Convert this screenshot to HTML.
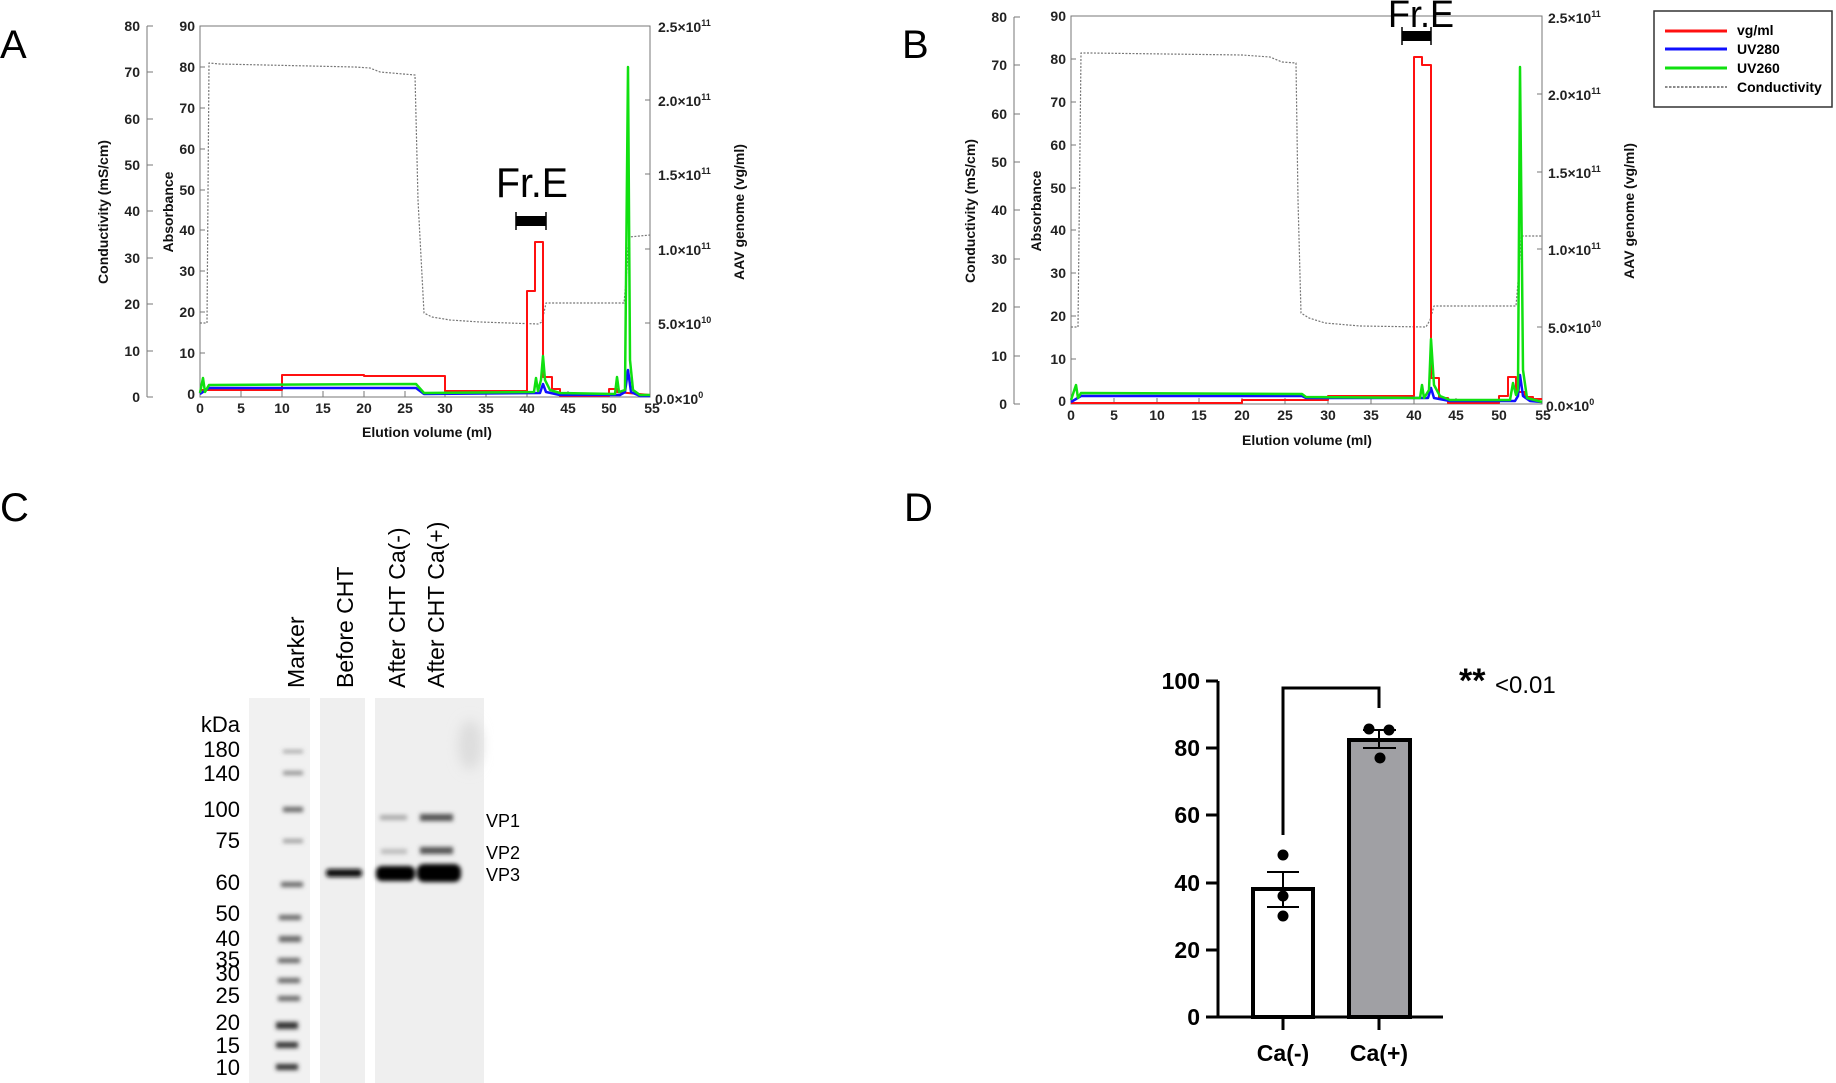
<!DOCTYPE html>
<html><head><meta charset="utf-8"><style>
html,body{margin:0;padding:0;background:#fff;}
svg{display:block;}
text{font-family:"Liberation Sans",sans-serif;}
.t{font-size:14px;font-weight:bold;fill:#222;}
.at{font-size:14px;font-weight:bold;fill:#111;}
.lg{font-family:"Liberation Serif",serif;font-size:14px;font-weight:bold;}
</style></head><body>
<svg width="1836" height="1083" viewBox="0 0 1836 1083" xmlns="http://www.w3.org/2000/svg">
<defs>
<filter id="bl" x="-20%" y="-80%" width="140%" height="260%"><feGaussianBlur stdDeviation="2"/></filter>
<filter id="bl2" x="-50%" y="-50%" width="200%" height="200%"><feGaussianBlur stdDeviation="6"/></filter>
</defs>

<!-- ================= Panel A ================= -->
<text x="0" y="58" font-size="40">A</text>
<g stroke="#777" stroke-width="1" fill="none">
<rect x="200" y="26" width="450" height="371"/>
<line x1="147" y1="26" x2="147" y2="397"/>
</g>
<g stroke="#777" stroke-width="1">
<line x1="147" y1="397" x2="153" y2="397"/><line x1="147" y1="351" x2="153" y2="351"/><line x1="147" y1="304" x2="153" y2="304"/><line x1="147" y1="258" x2="153" y2="258"/><line x1="147" y1="211" x2="153" y2="211"/><line x1="147" y1="165" x2="153" y2="165"/><line x1="147" y1="119" x2="153" y2="119"/><line x1="147" y1="72" x2="153" y2="72"/><line x1="147" y1="26" x2="153" y2="26"/>
<line x1="200" y1="353" x2="205" y2="353"/><line x1="200" y1="312" x2="205" y2="312"/><line x1="200" y1="271" x2="205" y2="271"/><line x1="200" y1="230" x2="205" y2="230"/><line x1="200" y1="190" x2="205" y2="190"/><line x1="200" y1="149" x2="205" y2="149"/><line x1="200" y1="108" x2="205" y2="108"/><line x1="200" y1="67" x2="205" y2="67"/>
<line x1="650" y1="323" x2="645" y2="323"/><line x1="650" y1="249" x2="645" y2="249"/><line x1="650" y1="174" x2="645" y2="174"/><line x1="650" y1="100" x2="645" y2="100"/>
<line x1="241" y1="397" x2="241" y2="391"/><line x1="282" y1="397" x2="282" y2="391"/><line x1="323" y1="397" x2="323" y2="391"/><line x1="364" y1="397" x2="364" y2="391"/><line x1="405" y1="397" x2="405" y2="391"/><line x1="445" y1="397" x2="445" y2="391"/><line x1="486" y1="397" x2="486" y2="391"/><line x1="527" y1="397" x2="527" y2="391"/><line x1="568" y1="397" x2="568" y2="391"/><line x1="609" y1="397" x2="609" y2="391"/>
</g>
<g class="t" text-anchor="end">
<text x="140" y="402">0</text><text x="140" y="356">10</text><text x="140" y="309">20</text><text x="140" y="263">30</text><text x="140" y="216">40</text><text x="140" y="170">50</text><text x="140" y="124">60</text><text x="140" y="77">70</text><text x="140" y="31">80</text>
<text x="195" y="399">0</text><text x="195" y="358">10</text><text x="195" y="317">20</text><text x="195" y="276">30</text><text x="195" y="235">40</text><text x="195" y="195">50</text><text x="195" y="154">60</text><text x="195" y="113">70</text><text x="195" y="72">80</text><text x="195" y="31">90</text>
</g>
<g class="t" text-anchor="middle">
<text x="200" y="413">0</text><text x="241" y="413">5</text><text x="282" y="413">10</text><text x="323" y="413">15</text><text x="364" y="413">20</text><text x="405" y="413">25</text><text x="445" y="413">30</text><text x="486" y="413">35</text><text x="527" y="413">40</text><text x="568" y="413">45</text><text x="609" y="413">50</text><text x="652" y="413">55</text>
</g>
<g class="t">
<text x="655" y="404">0.0×10<tspan dy="-6" font-size="9">0</tspan></text>
<text x="658" y="329">5.0×10<tspan dy="-6" font-size="9">10</tspan></text>
<text x="658" y="255">1.0×10<tspan dy="-6" font-size="9">11</tspan></text>
<text x="658" y="180">1.5×10<tspan dy="-6" font-size="9">11</tspan></text>
<text x="658" y="106">2.0×10<tspan dy="-6" font-size="9">11</tspan></text>
<text x="658" y="32">2.5×10<tspan dy="-6" font-size="9">11</tspan></text>
</g>
<text class="at" x="427" y="437" text-anchor="middle" font-size="16">Elution volume (ml)</text>
<text class="at" transform="translate(108,212) rotate(-90)" text-anchor="middle" font-size="15">Conductivity (mS/cm)</text>
<text class="at" transform="translate(173,212) rotate(-90)" text-anchor="middle" font-size="15">Absorbance</text>
<text class="at" transform="translate(744,212) rotate(-90)" text-anchor="middle" font-size="15">AAV genome (vg/ml)</text>
<g fill="none" stroke-linejoin="round">
<path d="M200,323 L207,323 L209,63 L220,64 L355,67 L370,68 L380,72 L415,75 L418,200 L424,313 L432,317 L450,320 L480,322 L538,324 L542,322 L546,303 L624,303 L627,270 L629,237 L650,235" stroke="#777" stroke-width="1.2" stroke-dasharray="2,1.5"/>
<path d="M200,390 L282,390 L282,375 L364,375 L364,376 L445,376 L445,391 L527,391 L527,291 L535,291 L535,242 L543,242 L543,377 L552,377 L552,389 L560,389 L560,396 L609,396 L609,389 L617,389 L617,392 L650,395" stroke="#ff1010" stroke-width="2"/>
<path d="M200,394 L209,388 L416,388 L424,394 L540,393 L543,384 L546,392 L560,395 L620,395 L625,392 L628,370 L631,392 L640,396 L650,396" stroke="#1010ff" stroke-width="2.5"/>
<path d="M200,393 L203,378 L205,392 L209,385 L416,384 L424,393 L534,392 L536,378 L538,391 L541,380 L543,356 L545,380 L550,390 L560,393 L615,394 L617,377 L619,392 L625,390 L628,67 L630,360 L633,390 L640,395 L650,395" stroke="#10e010" stroke-width="2.5"/>
</g>
<text x="532" y="197" font-size="42" text-anchor="middle" textLength="72" lengthAdjust="spacingAndGlyphs">Fr.E</text>
<rect x="516" y="216" width="30" height="10" fill="#000"/>
<line x1="516" y1="212" x2="516" y2="230" stroke="#000" stroke-width="1.5"/>
<line x1="546" y1="212" x2="546" y2="230" stroke="#000" stroke-width="1.5"/>

<!-- ================= Panel B ================= -->
<text x="902" y="58" font-size="40">B</text>
<g stroke="#777" stroke-width="1" fill="none">
<rect x="1071" y="16" width="471" height="388"/>
<line x1="1014" y1="17" x2="1014" y2="404"/>
</g>
<g stroke="#777" stroke-width="1">
<line x1="1014" y1="404" x2="1020" y2="404"/><line x1="1014" y1="356" x2="1020" y2="356"/><line x1="1014" y1="307" x2="1020" y2="307"/><line x1="1014" y1="259" x2="1020" y2="259"/><line x1="1014" y1="210" x2="1020" y2="210"/><line x1="1014" y1="162" x2="1020" y2="162"/><line x1="1014" y1="114" x2="1020" y2="114"/><line x1="1014" y1="65" x2="1020" y2="65"/><line x1="1014" y1="17" x2="1020" y2="17"/>
<line x1="1071" y1="359" x2="1076" y2="359"/><line x1="1071" y1="316" x2="1076" y2="316"/><line x1="1071" y1="273" x2="1076" y2="273"/><line x1="1071" y1="230" x2="1076" y2="230"/><line x1="1071" y1="188" x2="1076" y2="188"/><line x1="1071" y1="145" x2="1076" y2="145"/><line x1="1071" y1="102" x2="1076" y2="102"/><line x1="1071" y1="59" x2="1076" y2="59"/>
<line x1="1542" y1="327" x2="1537" y2="327"/><line x1="1542" y1="249" x2="1537" y2="249"/><line x1="1542" y1="172" x2="1537" y2="172"/><line x1="1542" y1="94" x2="1537" y2="94"/>
<line x1="1114" y1="404" x2="1114" y2="398"/><line x1="1157" y1="404" x2="1157" y2="398"/><line x1="1199" y1="404" x2="1199" y2="398"/><line x1="1242" y1="404" x2="1242" y2="398"/><line x1="1285" y1="404" x2="1285" y2="398"/><line x1="1328" y1="404" x2="1328" y2="398"/><line x1="1371" y1="404" x2="1371" y2="398"/><line x1="1414" y1="404" x2="1414" y2="398"/><line x1="1456" y1="404" x2="1456" y2="398"/><line x1="1499" y1="404" x2="1499" y2="398"/>
</g>
<g class="t" text-anchor="end">
<text x="1007" y="409">0</text><text x="1007" y="361">10</text><text x="1007" y="312">20</text><text x="1007" y="264">30</text><text x="1007" y="215">40</text><text x="1007" y="167">50</text><text x="1007" y="119">60</text><text x="1007" y="70">70</text><text x="1007" y="22">80</text>
<text x="1066" y="406">0</text><text x="1066" y="364">10</text><text x="1066" y="321">20</text><text x="1066" y="278">30</text><text x="1066" y="235">40</text><text x="1066" y="193">50</text><text x="1066" y="150">60</text><text x="1066" y="107">70</text><text x="1066" y="64">80</text><text x="1066" y="21">90</text>
</g>
<g class="t" text-anchor="middle">
<text x="1071" y="420">0</text><text x="1114" y="420">5</text><text x="1157" y="420">10</text><text x="1199" y="420">15</text><text x="1242" y="420">20</text><text x="1285" y="420">25</text><text x="1328" y="420">30</text><text x="1371" y="420">35</text><text x="1414" y="420">40</text><text x="1456" y="420">45</text><text x="1499" y="420">50</text><text x="1543" y="420">55</text>
</g>
<g class="t">
<text x="1546" y="411">0.0×10<tspan dy="-6" font-size="9">0</tspan></text>
<text x="1548" y="333">5.0×10<tspan dy="-6" font-size="9">10</tspan></text>
<text x="1548" y="255">1.0×10<tspan dy="-6" font-size="9">11</tspan></text>
<text x="1548" y="178">1.5×10<tspan dy="-6" font-size="9">11</tspan></text>
<text x="1548" y="100">2.0×10<tspan dy="-6" font-size="9">11</tspan></text>
<text x="1548" y="23">2.5×10<tspan dy="-6" font-size="9">11</tspan></text>
</g>
<text class="at" x="1307" y="445" text-anchor="middle" font-size="16">Elution volume (ml)</text>
<text class="at" transform="translate(975,211) rotate(-90)" text-anchor="middle" font-size="15">Conductivity (mS/cm)</text>
<text class="at" transform="translate(1041,211) rotate(-90)" text-anchor="middle" font-size="15">Absorbance</text>
<text class="at" transform="translate(1634,211) rotate(-90)" text-anchor="middle" font-size="15">AAV genome (vg/ml)</text>
<g fill="none" stroke-linejoin="round">
<path d="M1071,327 L1078,327 L1081,53 L1090,53 L1242,55 L1270,57 L1282,62 L1296,63 L1298,200 L1301,313 L1309,318 L1325,323 L1360,326 L1426,327 L1430,320 L1434,306 L1516,306 L1519,270 L1521,236 L1542,236" stroke="#777" stroke-width="1.2" stroke-dasharray="2,1.5"/>
<path d="M1071,403 L1242,403 L1242,400 L1328,400 L1328,396 L1414,396 L1414,57 L1422,57 L1422,65 L1431,65 L1431,378 L1439,378 L1439,398 L1448,398 L1448,403 L1499,403 L1499,396 L1508,396 L1508,377 L1516,377 L1516,392 L1525,392 L1525,397 L1533,397 L1533,399 L1542,399" stroke="#ff1010" stroke-width="2"/>
<path d="M1071,402 L1081,396 L1302,396 L1306,398 L1428,398 L1431,388 L1434,398 L1450,401 L1515,401 L1518,396 L1520,375 L1523,396 L1530,401 L1542,402" stroke="#1010ff" stroke-width="2.5"/>
<path d="M1071,400 L1076,385 L1078,398 L1081,393 L1302,394 L1306,397 L1420,398 L1422,385 L1424,398 L1429,390 L1431,339 L1434,385 L1440,396 L1450,400 L1510,400 L1513,383 L1516,395 L1518,390 L1520,67 L1523,370 L1527,398 L1542,402" stroke="#10e010" stroke-width="2.5"/>
</g>
<text x="1421" y="27" font-size="38" text-anchor="middle" textLength="66" lengthAdjust="spacingAndGlyphs">Fr.E</text>
<rect x="1402" y="31" width="29" height="10" fill="#000"/>
<line x1="1402" y1="27" x2="1402" y2="45" stroke="#000" stroke-width="1.5"/>
<line x1="1431" y1="27" x2="1431" y2="45" stroke="#000" stroke-width="1.5"/>
<!-- legend -->
<rect x="1654" y="11" width="178" height="96" fill="#fff" stroke="#333" stroke-width="1.5"/>
<line x1="1665" y1="31" x2="1727" y2="31" stroke="#ff1010" stroke-width="3"/>
<line x1="1665" y1="49" x2="1727" y2="49" stroke="#1010ff" stroke-width="3"/>
<line x1="1665" y1="68" x2="1727" y2="68" stroke="#10e010" stroke-width="3"/>
<line x1="1665" y1="87" x2="1727" y2="87" stroke="#444" stroke-width="1.2" stroke-dasharray="2.5,1.5"/>
<g class="lg">
<text x="1737" y="35">vg/ml</text><text x="1737" y="54">UV280</text><text x="1737" y="73">UV260</text><text x="1737" y="92">Conductivity</text>
</g>

<!-- ================= Panel C ================= -->
<text x="0" y="521" font-size="40">C</text>
<g font-size="23" fill="#000">
<text transform="translate(304,688) rotate(-90)">Marker</text>
<text transform="translate(353,688) rotate(-90)">Before CHT</text>
<text transform="translate(405,688) rotate(-90)">After CHT Ca(-)</text>
<text transform="translate(444,688) rotate(-90)">After CHT Ca(+)</text>
</g>
<rect x="249" y="698" width="61" height="385" fill="#f1f1f1"/>
<rect x="320" y="698" width="45" height="385" fill="#efefef"/>
<rect x="375" y="698" width="109" height="385" fill="#efefef"/>
<ellipse cx="470" cy="745" rx="12" ry="25" fill="#dddddd" filter="url(#bl2)"/>
<g fill="#666" filter="url(#bl)">
<rect x="283" y="750" width="20" height="3" opacity="0.6"/>
<rect x="283" y="771" width="20" height="4" opacity="0.7"/>
<rect x="283" y="807" width="20" height="5"/>
<rect x="283" y="839" width="20" height="4" opacity="0.6"/>
<rect x="281" y="882" width="22" height="5"/>
<rect x="279" y="915" width="22" height="5"/>
<rect x="279" y="936" width="22" height="6"/>
<rect x="278" y="958" width="22" height="5"/>
<rect x="278" y="978" width="22" height="5"/>
<rect x="278" y="996" width="22" height="5"/>
<rect x="276" y="1022" width="22" height="7" fill="#333"/>
<rect x="276" y="1042" width="22" height="6" fill="#333"/>
<rect x="276" y="1064" width="22" height="6" fill="#333"/>
</g>
<g filter="url(#bl)">
<rect x="326" y="869" width="36" height="8" rx="3" fill="#111"/>
<rect x="376" y="866" width="39" height="15" rx="6" fill="#000"/>
<rect x="417" y="864" width="44" height="18" rx="7" fill="#000"/>
<rect x="380" y="815" width="27" height="5" fill="#aaa"/>
<rect x="420" y="814" width="33" height="7" fill="#555"/>
<rect x="381" y="849" width="26" height="5" fill="#bbb"/>
<rect x="420" y="847" width="33" height="7" fill="#555"/>
</g>
<g font-size="18" fill="#000">
<text x="486" y="827">VP1</text><text x="486" y="859">VP2</text><text x="486" y="881">VP3</text>
</g>
<g font-size="22" fill="#000" text-anchor="end">
<text x="240" y="732">kDa</text>
<text x="240" y="757">180</text><text x="240" y="781">140</text><text x="240" y="817">100</text><text x="240" y="848">75</text><text x="240" y="890">60</text><text x="240" y="921">50</text><text x="240" y="946">40</text><text x="240" y="967">35</text><text x="240" y="981">30</text><text x="240" y="1003">25</text><text x="240" y="1030">20</text><text x="240" y="1053">15</text><text x="240" y="1075">10</text>
</g>

<!-- ================= Panel D ================= -->
<text x="904" y="521" font-size="40">D</text>
<rect x="1253" y="889" width="60" height="128" fill="#fff" stroke="#000" stroke-width="4"/>
<rect x="1349" y="740" width="61" height="277" fill="#a0a0a4" stroke="#000" stroke-width="4"/>
<g stroke="#000" stroke-width="3" fill="none">
<line x1="1218" y1="681" x2="1218" y2="1017"/>
<line x1="1218" y1="1017" x2="1443" y2="1017"/>
<line x1="1206" y1="681" x2="1218" y2="681"/><line x1="1206" y1="748" x2="1218" y2="748"/><line x1="1206" y1="815" x2="1218" y2="815"/><line x1="1206" y1="883" x2="1218" y2="883"/><line x1="1206" y1="950" x2="1218" y2="950"/><line x1="1206" y1="1017" x2="1218" y2="1017"/>
<line x1="1283" y1="1017" x2="1283" y2="1030"/><line x1="1379" y1="1017" x2="1379" y2="1030"/>
<path d="M1283,835 L1283,688 L1379,688 L1379,708"/>
</g>
<g stroke="#000" stroke-width="2">
<line x1="1283" y1="872" x2="1283" y2="907"/><line x1="1267" y1="872" x2="1299" y2="872"/><line x1="1267" y1="907" x2="1299" y2="907"/>
<line x1="1379" y1="730" x2="1379" y2="748"/><line x1="1363" y1="730" x2="1396" y2="730"/><line x1="1363" y1="748" x2="1396" y2="748"/>
</g>
<g fill="#000">
<circle cx="1283" cy="855" r="5.5"/><circle cx="1283" cy="896" r="5.5"/><circle cx="1283" cy="916" r="5.5"/>
<circle cx="1369" cy="729" r="5.5"/><circle cx="1389" cy="730" r="5.5"/><circle cx="1380" cy="758" r="5.5"/>
</g>
<g font-size="23" font-weight="bold" text-anchor="end">
<text x="1200" y="689">100</text><text x="1200" y="756">80</text><text x="1200" y="823">60</text><text x="1200" y="891">40</text><text x="1200" y="958">20</text><text x="1200" y="1025">0</text>
</g>
<g font-size="23" font-weight="bold" text-anchor="middle">
<text x="1283" y="1061">Ca(-)</text><text x="1379" y="1061">Ca(+)</text>
</g>
<text x="1459" y="692" font-size="34" font-weight="bold">**</text>
<text x="1495" y="693" font-size="24">&lt;0.01</text>
</svg>
</body></html>
